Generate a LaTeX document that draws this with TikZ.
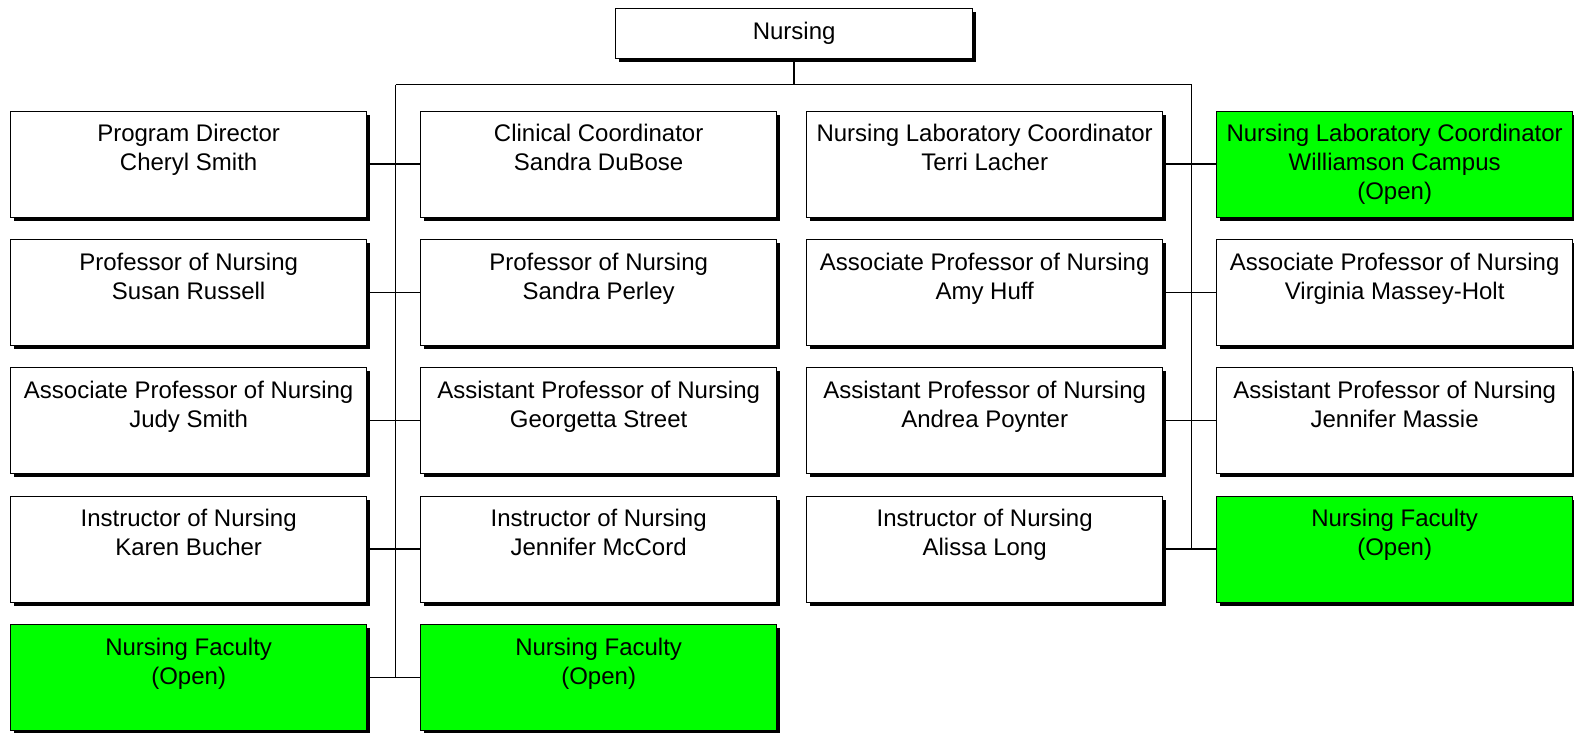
\documentclass[tikz,border=0pt]{standalone}
\usepackage{fontspec}
\setmainfont{Liberation Sans}
\definecolor{opengreen}{RGB}{0,255,0}
\tikzset{
  orgbox/.style={draw=black, line width=1.3pt, fill=white, minimum width=356pt, minimum height=106pt, inner sep=0pt, anchor=north west},
  orglbl/.style={align=center, inner sep=0pt, anchor=north, font=\fontsize{24}{29}\selectfont},
  conn/.style={line width=1.5pt, draw=black},
  shadowfill/.style={fill=black}
}
\newcommand{\obox}[5]{%
  \fill[shadowfill] (#2+4,#3+4) rectangle ++(356,106);
  \node[orgbox,fill=#4] (#1) at (#2,#3) {};
  \node[orglbl] (#1t) at ([yshift=-13.8pt]#1.north) {#5};
}
\begin{document}
\begin{tikzpicture}[x=1pt,y=-1pt]
\useasboundingbox (0,0) rectangle (1574,732);
% top box
\fill[shadowfill] (619,12) rectangle ++(357,50);
\node[draw=black, line width=1.3pt, fill=white, minimum width=357pt, minimum height=50pt, inner sep=0pt, anchor=north west, font=\fontsize{24}{29}\selectfont] (top) at (615,8) {Nursing};
% connectors
\coordinate (busL) at (395.5,84.5);
\coordinate (busR) at (1191.5,84.5);
% column 1
\obox{a1}{10}{110.5}{white}{Program Director\\Cheryl Smith}
\obox{a2}{10}{239}{white}{Professor of Nursing\\Susan Russell}
\obox{a3}{10}{367}{white}{Associate Professor of Nursing\\Judy Smith}
\obox{a4}{10}{495.5}{white}{Instructor of Nursing\\Karen Bucher}
\obox{a5}{10}{624}{opengreen}{Nursing Faculty\\(Open)}
% column 2
\obox{b1}{420}{110.5}{white}{Clinical Coordinator\\Sandra DuBose}
\obox{b2}{420}{239}{white}{Professor of Nursing\\Sandra Perley}
\obox{b3}{420}{367}{white}{Assistant Professor of Nursing\\Georgetta Street}
\obox{b4}{420}{495.5}{white}{Instructor of Nursing\\Jennifer McCord}
\obox{b5}{420}{624}{opengreen}{Nursing Faculty\\(Open)}
% column 3
\obox{c1}{806}{110.5}{white}{Nursing Laboratory Coordinator\\Terri Lacher}
\obox{c2}{806}{239}{white}{Associate Professor of Nursing\\Amy Huff}
\obox{c3}{806}{367}{white}{Assistant Professor of Nursing\\Andrea Poynter}
\obox{c4}{806}{495.5}{white}{Instructor of Nursing\\Alissa Long}
% column 4
\obox{d1}{1216}{110.5}{opengreen}{Nursing Laboratory Coordinator\\Williamson Campus\\(Open)}
\obox{d2}{1216}{239}{white}{Associate Professor of Nursing\\Virginia Massey-Holt}
\obox{d3}{1216}{367}{white}{Assistant Professor of Nursing\\Jennifer Massie}
\obox{d4}{1216}{495.5}{opengreen}{Nursing Faculty\\(Open)}
% lines
\draw[conn] (top.south) -- (top.south |- busL);
\draw[conn] (busL) -- (busR);
\draw[conn] (busL) -- (busL |- a5.east);
\draw[conn] (busR) -- (busR |- c4.east);
\foreach \i in {1,...,5}{\draw[conn] (a\i.east) -- (b\i.west);}
\foreach \i in {1,...,4}{\draw[conn] (c\i.east) -- (d\i.west);}
\end{tikzpicture}
\end{document}
